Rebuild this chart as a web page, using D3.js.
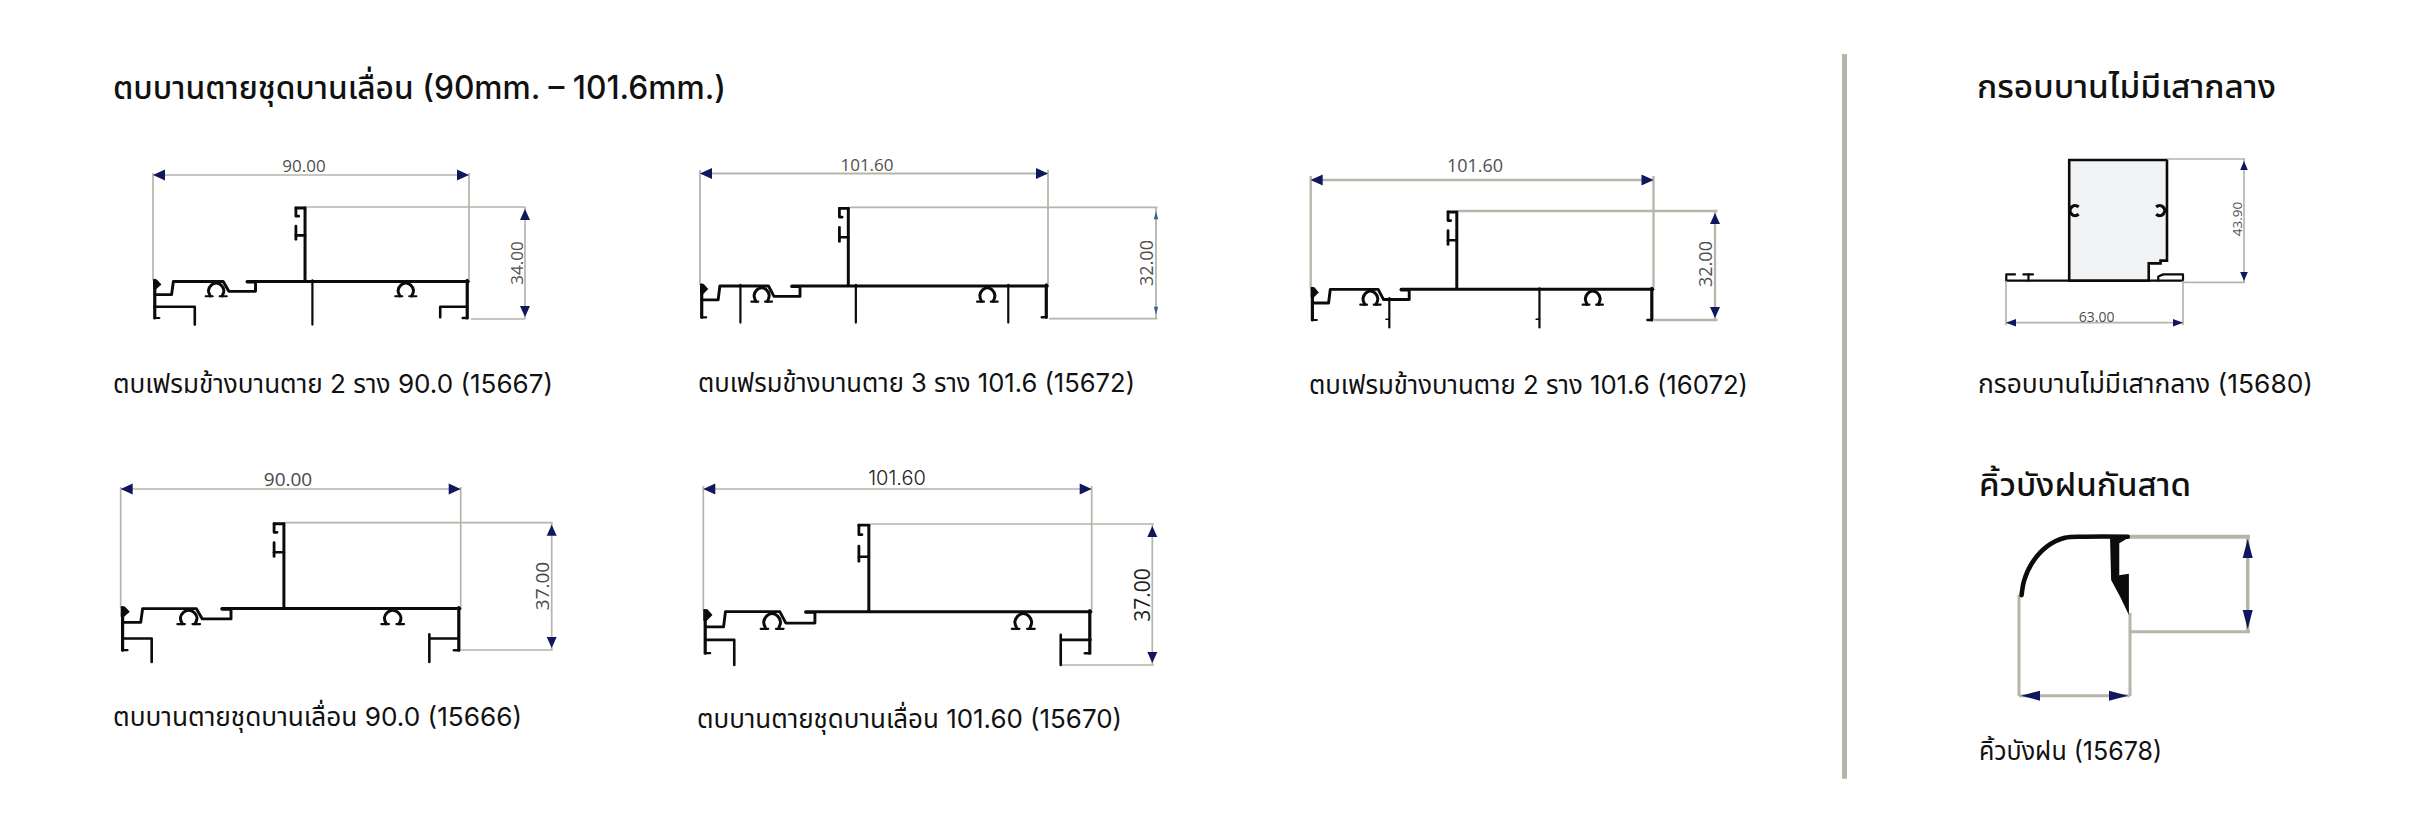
<!DOCTYPE html>
<html><head><meta charset="utf-8">
<style>html,body{margin:0;padding:0;background:#fff}svg{display:block}</style>
<script src="https://cdn.jsdelivr.net/npm/d3@7/dist/d3.min.js"></script>
</head><body><svg id="c" width="2412" height="819"></svg>
<script>
// ---------- text ----------
const headings = ["ตบบานตายชุดบานเลื่อน (90mm. – 101.6mm.)", "กรอบบานไม่มีเสากลาง", "คิ้วบังฝนกันสาด"];
const captions = [
  "ตบเฟรมข้างบานตาย 2 ราง 90.0 (15667)",
  "ตบเฟรมข้างบานตาย 3 ราง 101.6 (15672)",
  "ตบเฟรมข้างบานตาย 2 ราง 101.6 (16072)",
  "ตบบานตายชุดบานเลื่อน 90.0 (15666)",
  "ตบบานตายชุดบานเลื่อน 101.60 (15670)",
  "กรอบบานไม่มีเสากลาง (15680)",
  "คิ้วบังฝน (15678)"
];
// ---------- dimensions in mm ----------
const widthsMm  = [90, 101.6, 101.6, 90, 101.6, 63, 30];
const heightsMm = [34, 32, 32, 37, 37, 43.9, 25.7];
const widthLabels  = ["90.00","101.60","101.60","90.00","101.60","63.00",""];
const heightLabels = ["34.00","32.00","32.00","37.00","37.00","43.90",""];
// ---------- cross-section geometry in mm (x from left, y below base line) ----------
const baseDepth = [22.3, 22.3, 22.7, 24.66, 22.7];   // base line below the top of the web
const webX = [43.3, 43.3, 43.3, 43.2, 43.3];
const wallDrop = [11.4, 9.3, 9.3, 12.4, 11.2];
const rightOmegaX = [72, 83.9, 83.6, 72, 83.7];
const leftOmegaX = [18, 18, 17.7, 18, 18];
const clipBar = [[-2.6,0.3],[0,0.3]];
const clipA = [[-2.6,0.3],[-2.6,2.8],[-1.8,2.8]];
const clipB = [[-2.6,5.8],[-2.6,9.8]];
const clipC = [[-2.6,8.6],[0,8.6]];
const nose = [[0,-0.3],[1.1,-0.3],[2.4,1.2],[0.9,2.7],[0,2.7]];
const step = [[0.5,4.3],[5.3,4.3],[5.8,0.3],[20,0.3],[21.6,3.3],[29.2,3.3],[29.2,0.5],[26.8,0.5]];
const omega = [[-1.7,4.7],[-2.2,3.0],[-1.4,1.4],[0,0.8],[1.4,1.4],[2.2,3.0],[1.7,4.7]];
const omegaFeet = [[[-3,4.8],[-1,4.8]],[[1,4.8],[3,4.8]]];
// profile-specific stems below the base: [x, yFrom, yTo]
const stems = [
  [[45.4,0,13.4]],
  [[11.8,0,10.8],[45.5,0,10.8],[90,0,10.8]],
  [[23.3,2.9,11.5],[67.8,0,11.5]],
  [],
  []
];
const stemTicks = [[],[],[[23.3,9.1],[67.8,9.1]],[],[]];
// shelves below the base: polylines
const shelves = [
  [[[0.5,8],[11.9,8],[11.9,13.4]], [[89.4,8],[81.8,8],[81.8,11.2]]],
  [],
  [],
  [[[0.5,9],[8.2,9],[8.2,15.8]], [[89.4,9],[81.7,9],[81.7,7.8],[81.7,15.8]]],
  [[[0.5,7.7],[8.1,7.7],[8.1,14.3]], [[101.3,7.7],[93.5,7.7],[93.5,6.4],[93.5,14.3]]]
];
const frameFill = [[22.5,0],[57.3,0],[57.3,36.6],[55,36.6],[55,37.6],[50.8,37.6],[50.8,43.9],[22.5,43.9]];
const frameFeet = [
  [[0,43.9],[63,43.9]],
  [[0.1,43.9],[0.1,41.6],[3.2,41.6]],
  [[8,43.9],[8,41.6]],
  [[6.2,41.6],[9.6,41.6]],
  [[54.2,43.9],[54.2,42.4],[56,41.6],[63,41.6],[63,43.9]]
];
const frameHooks = [[24.6,18.4,-1],[54.7,18.4,1]];
const hoodArc = [[0.7,15.8],[1.4,11.8],[3.4,7.3],[7.5,2.7],[12.4,0.3],[18,0],[29.4,0]];
const hoodBody = [[24.6,0.2],[29.7,0.2],[27.1,1.8],[27.1,10.4],[29.7,10],[29.7,21.2],[27.3,16.2],[24.9,11.7]];

// ---------- layout (pixels on the page) ----------
const boxes = [
 {l:153,r:469,t:207,b:319,dimY:175,dimX:525,extT:173,topFrom:303,botFrom:471,extEnd:525,lw:1.7,tx:304,ty:172,hx:523,hy:263,fs:17,hfs:17,tc:"#505050"},
 {l:700,r:1048,t:207.3,b:318.7,dimY:173.5,dimX:1156,extT:170,topFrom:850,botFrom:1049,extEnd:1157.5,lw:1.8,tx:867,ty:171,hx:1153,hy:263,fs:17,hfs:18,tc:"#505050",small:true},
 {l:1310.7,r:1653.5,t:211,b:320,dimY:180,dimX:1715,extT:176,topFrom:1458,botFrom:1654,extEnd:1717.5,lw:2.3,tx:1475,ty:171.5,hx:1711.5,hy:264,fs:18,hfs:18,tc:"#505050"},
 {l:120.7,r:460.7,t:522.7,b:650,dimY:489,dimX:551.7,extT:487,topFrom:285,botFrom:460.7,extEnd:552.7,lw:1.7,tx:288,ty:486,hx:549,hy:586,fs:19,hfs:19,tc:"#484848"},
 {l:703.3,r:1091.7,t:524,b:665,dimY:489,dimX:1152.3,extT:486,topFrom:870,botFrom:1061.7,extEnd:1154,lw:1.7,tx:897,ty:485,hx:1150,hy:595,fs:20,hfs:21,tc:"#202020"}
];
const ext = "#b5b5aa", navy = "#10175c", ink = "#0b0b0b", blue = "#3d5aa8";
const thaiFont = "Inter,'Noto Sans Thai','Noto Sans',sans-serif";
const dimFont = "'Open Sans','Noto Sans',sans-serif";

const svg = d3.select("#c");
svg.append("rect").attr("width",2412).attr("height",819).attr("fill","#fff");

function text(s,x,y,size,weight,fit){
  const t = svg.append("text").attr("x",x).attr("y",y).attr("font-family",thaiFont)
    .attr("font-size",size).attr("font-weight",weight).attr("fill","#111").text(s);
  if(fit) t.attr("textLength",fit).attr("lengthAdjust","spacingAndGlyphs");
  return t;
}
const line = d3.line();
const curve = d3.line().curve(d3.curveCatmullRom.alpha(0.5));

function arrow(x,y,dir,len,half,color){
  const pts = dir==="l"?[[x,y],[x+len,y-half],[x+len,y+half]]:
              dir==="r"?[[x,y],[x-len,y-half],[x-len,y+half]]:
              dir==="u"?[[x,y],[x-half,y+len],[x+half,y+len]]:
                        [[x,y],[x-half,y-len],[x+half,y-len]];
  svg.append("path").attr("d",line(pts)+"Z").attr("fill",color);
}
function seg(pts,w,color,c){
  svg.append("path").attr("d",(c||line)(pts)).attr("fill","none").attr("stroke",color||ext)
    .attr("stroke-width",w).attr("stroke-linejoin","round").attr("stroke-linecap",color===ink?"round":"butt");
}

// --- five sash profiles
boxes.forEach((b,i)=>{
  const X = d3.scaleLinear().domain([0,widthsMm[i]]).range([b.l,b.r]);
  const Ytop = d3.scaleLinear().domain([0,heightsMm[i]]).range([b.t,b.b]);
  const Y = v => Ytop(baseDepth[i]+v);
  const P = (pts,dx=0)=>pts.map(p=>[X(p[0]+dx),Y(p[1])]);
  const Pt= (pts,dx=0)=>pts.map(p=>[X(p[0]+dx),Ytop(p[1])]);
  const by = Y(0);
  // extension lines
  seg([[b.l,b.extT],[b.l,by]],b.lw);
  seg([[b.r,b.extT],[b.r,by]],b.lw);
  seg([[b.topFrom,b.t],[b.extEnd,b.t]],b.lw);
  seg([[b.botFrom,b.b],[b.extEnd,b.b]],b.lw);
  seg([[b.l,b.dimY],[b.r,b.dimY]],b.lw);
  seg([[b.dimX,b.t],[b.dimX,b.b]],b.lw);
  arrow(b.l,b.dimY,"l",12,5.5,navy); arrow(b.r,b.dimY,"r",12,5.5,navy);
  if(b.small){ arrow(b.dimX,b.t+4,"u",8,2.2,blue); arrow(b.dimX,b.b-4,"d",8,2.2,blue); }
  else { arrow(b.dimX,b.t+2,"u",11,5,navy); arrow(b.dimX,b.b-2,"d",11,5,navy); }
  // profile
  const xw = webX[i], w = widthsMm[i], wr = w-0.5;
  seg([[X(xw),Ytop(0.3)],[X(xw),by]],3,ink);
  seg(Pt(clipBar,xw),2.8,ink); seg(Pt(clipA,xw),2.8,ink); seg(Pt(clipB,xw),2.8,ink); seg(Pt(clipC,xw),2.6,ink);
  seg([[X(26.8),Y(0.3)],[X(wr+0.3),Y(0.3)]],3,ink);
  seg([[X(0.5),Y(0)],[X(0.5),Y(wallDrop[i])]],3.2,ink);
  seg([[X(wr),Y(0)],[X(wr),Y(wallDrop[i])]],3.2,ink);
  seg(P(step),2.9,ink);
  svg.append("path").attr("d",line(P(nose))+"Z").attr("fill",ink);
  seg([[X(0.5),Y(wallDrop[i])],[X(1.8),Y(wallDrop[i])]],2.2,ink);
  seg([[X(wr),Y(wallDrop[i])],[X(wr-1.3),Y(wallDrop[i])]],2.4,ink);
  [leftOmegaX[i],rightOmegaX[i]].forEach(cx=>{
    seg(P(omega,cx),3,ink,curve);
    omegaFeet.forEach(f=>seg(P(f,cx),2.2,ink));
  });
  stems[i].forEach(s=>seg([[X(s[0]),Y(s[1])],[X(s[0]),Y(s[2])]],2.2,ink));
  stemTicks[i].forEach(s=>seg([[X(s[0]-1),Y(s[1])],[X(s[0]),Y(s[1])]],1.5,ink));
  shelves[i].forEach(s=>seg(P(s),2.6,ink));
  // labels
  svg.append("text").attr("x",b.tx).attr("y",b.ty).attr("text-anchor","middle").attr("font-family",i==4?"Inter":dimFont)
     .attr("font-weight",i==4?300:400).attr("font-size",b.fs).attr("fill",b.tc).text(widthLabels[i]);
  svg.append("text").attr("transform",`translate(${b.hx},${b.hy}) rotate(-90)`).attr("text-anchor","middle")
     .attr("font-family",dimFont).attr("font-size",b.hfs).attr("fill",b.tc).text(heightLabels[i]);
});

// --- frame without mullion (index 5)
(function(){
  const i=5, X=d3.scaleLinear().domain([0,widthsMm[i]]).range([2006,2183]);
  const Y=d3.scaleLinear().domain([0,heightsMm[i]]).range([160,280.7]);
  const P=pts=>pts.map(p=>[X(p[0]),Y(p[1])]);
  svg.append("path").attr("d",line(P(frameFill))+"Z").attr("fill","#f2f3f5").attr("stroke",ink).attr("stroke-width",2.6);
  frameFeet.forEach(f=>seg(P(f),2.2,ink));
  frameHooks.forEach(h=>{
    const cx=X(h[0]), cy=Y(h[1]);
    const a = h[2]<0 ? Math.PI/2 : -Math.PI/2;
    svg.append("path").attr("transform",`translate(${cx},${cy})`)
      .attr("d",d3.arc().innerRadius(3.4).outerRadius(6.6).startAngle(a+0.8).endAngle(a+2*Math.PI-0.8)())
      .attr("fill",ink);
  });
  const lw=1.7;
  seg([[2006,280.7],[2006,325]],lw); seg([[2183,280.7],[2183,325]],lw);
  seg([[2006,322.7],[2183,322.7]],lw);
  seg([[2167,159],[2245,159]],lw); seg([[2183,282.3],[2245,282.3]],lw);
  seg([[2244,159],[2244,282.3]],lw);
  arrow(2006,322.7,"l",10,3.8,navy); arrow(2183,322.7,"r",10,3.8,navy);
  arrow(2244,161,"u",9,3.8,navy); arrow(2244,281,"d",9,3.8,navy);
  svg.append("text").attr("x",2096.7).attr("y",321.7).attr("text-anchor","middle").attr("font-family",dimFont)
    .attr("font-size",14).attr("fill","#505050").text(widthLabels[i]);
  svg.append("text").attr("transform","translate(2242,219) rotate(-90)").attr("text-anchor","middle")
    .attr("font-family",dimFont).attr("font-size",13.5).attr("fill","#505050").text(heightLabels[i]);
})();

// --- rain hood (index 6)
(function(){
  const i=6, X=d3.scaleLinear().domain([0,widthsMm[i]]).range([2019,2130]);
  const Y=d3.scaleLinear().domain([0,heightsMm[i]]).range([536.7,631.7]);
  const P=pts=>pts.map(p=>[X(p[0]),Y(p[1])]);
  const lw=3;
  seg([[2019,595],[2019,696]],lw); seg([[2130,613],[2130,696]],lw);
  seg([[2019,695.7],[2130,695.7]],lw);
  seg([[2128,536.7],[2250,536.7]],4); seg([[2130,631.7],[2250,631.7]],lw);
  seg([[2247.7,536.7],[2247.7,631.7]],lw+0.5);
  arrow(2021,695.7,"l",19,5,navy); arrow(2128,695.7,"r",19,5,navy);
  arrow(2247.7,539,"u",19,5,navy); arrow(2247.7,629,"d",19,5,navy);
  seg(P(hoodArc),4.6,ink,curve);
  svg.append("path").attr("d",line(P(hoodBody))+"Z").attr("fill",ink);
})();

// --- divider
seg([[1844.5,54],[1844.5,778.7]],5);

// --- headings and captions
text(headings[0],113,99,32,500,613);
text(headings[1],1977,98,32,500,299);
text(headings[2],1979,496,32,500,212);
const capPos=[[113,392.7,440],[698,391.7,437],[1309,394,439],[113,726,409],[697,728,425],[1978,393,335],[1979,760,183]];
captions.forEach((c,i)=>text(c,capPos[i][0],capPos[i][1],26,400,capPos[i][2]));
</script></body></html>
